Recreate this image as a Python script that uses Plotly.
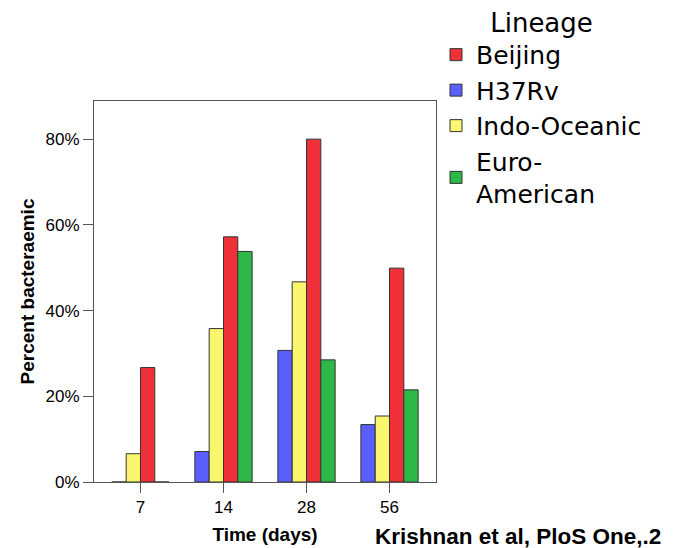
import plotly.graph_objects as go

days = ["7", "14", "28", "56"]
h37rv = [0.0, 7.1, 30.7, 13.4]
indo_oceanic = [6.6, 35.8, 46.7, 15.4]
beijing = [26.7, 57.2, 80.0, 49.9]
euro_american = [0.0, 53.8, 28.5, 21.5]
y_ticks = [0, 20, 40, 60, 80]
y_tick_labels = ["0%", "20%", "40%", "60%", "80%"]

series = [
    ("H37Rv", h37rv, "#5a5eff", 2),
    ("Indo-Oceanic", indo_oceanic, "#faf76e", 3),
    ("Beijing", beijing, "#ef3038", 1),
    ("Euro-<br>American", euro_american, "#2eb848", 4),
]

fig = go.Figure()
for name, vals, color, rank in series:
    fig.add_trace(go.Bar(
        x=days, y=vals, name=name, legendrank=rank,
        marker=dict(color=color, line=dict(color="#333333", width=1)),
    ))

# page is offset by the 8px body margin, so figure coords = page coords - 8
OFF = 8
pl, pr, pt, pb = 93.5 - OFF, 436 - OFF, 101 - OFF, 482.3 - OFF
W, H = 677, 548

def py(p):
    return (pb - (p - OFF)) / (pb - pt)

def px(p):
    return ((p - OFF) - pl) / (pr - pl)

font = "Liberation Sans, Arial, sans-serif"
lfont = "DejaVu Sans, Liberation Sans, sans-serif"
fig.update_layout(
    width=W, height=H,
    margin=dict(l=pl, r=W - pr, t=pt, b=H - pb, autoexpand=False),
    paper_bgcolor="white", plot_bgcolor="white",
    barmode="group", bargap=0.31, bargroupgap=0,
    font=dict(family=font, color="black"),
    showlegend=True,
    legend=dict(
        x=px(436), xanchor="left", y=py(-2), yanchor="top",
        font=dict(size=25, family=lfont, color="black"),
        title=dict(text="Lineage", side="top center", font=dict(size=26, family=lfont)),
        itemwidth=30, tracegroupgap=0,
        bgcolor="rgba(0,0,0,0)",
    ),
    xaxis=dict(
        type="category", range=[-0.56, 3.56],
        showline=True, linecolor="#555555", linewidth=1, mirror=True,
        ticks="outside", ticklen=10, tickcolor="#555555",
        tickfont=dict(size=17),
        title=dict(text="<b>Time (days)</b>", font=dict(size=19), standoff=11),
        showgrid=False, zeroline=False, fixedrange=True,
    ),
    yaxis=dict(
        range=[0, 88.9],
        tickvals=y_ticks, ticktext=y_tick_labels,
        showline=True, linecolor="#555555", linewidth=1, mirror=True,
        ticks="outside", ticklen=10, tickcolor="#555555",
        tickfont=dict(size=17),
        title=dict(text="<b>Percent bacteraemic</b>", font=dict(size=19), standoff=5),
        showgrid=False, zeroline=False, fixedrange=True,
    ),
    annotations=[dict(
        text="<b>Krishnan et al, PloS One,.2</b>",
        xref="paper", yref="paper", x=px(373), y=py(537),
        xanchor="left", yanchor="middle", showarrow=False,
        font=dict(size=22.5, family=font, color="black"),
    )],
)

fig.write_html("out.html")
